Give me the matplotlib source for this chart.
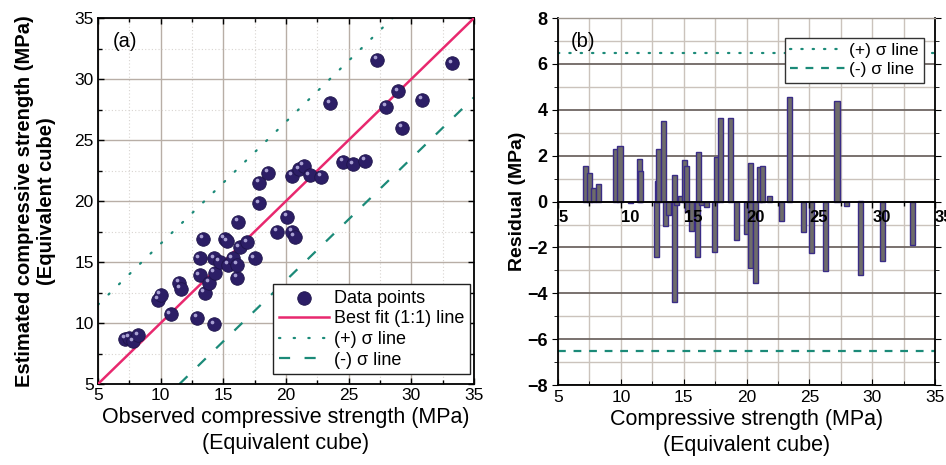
import matplotlib
matplotlib.use('Agg')
import matplotlib.pyplot as plt
from matplotlib import font_manager as fm
from matplotlib.ticker import MultipleLocator
import matplotlib.transforms as mtransforms

names = {f.name for f in fm.fontManager.ttflist}
NARROW = 'Liberation Sans Narrow' if 'Liberation Sans Narrow' in names else 'Liberation Sans'
SANS = 'Liberation Sans'
plt.rcParams['font.family'] = [SANS, 'DejaVu Sans']

# ---------------- data ----------------
obs_x = [7.15, 7.5, 7.8, 8.2, 9.8, 10.0, 10.8, 11.5, 11.6, 12.9,
         13.1, 13.1, 13.4, 13.5, 13.85, 14.25, 14.25, 14.3, 14.7, 15.1,
         15.3, 15.4, 15.75, 16.1, 16.1, 16.2, 16.3, 16.9, 17.5, 17.85,
         17.85, 18.6, 19.3, 20.1, 20.5, 20.7, 20.5, 21.05, 21.4, 21.9,
         22.8, 23.5, 24.55, 25.35, 26.3, 27.25, 28.0, 28.95, 29.25, 30.85,
         33.25]
est_y = [8.7, 8.8, 8.5, 9.0, 11.9, 12.3, 10.7, 13.3, 12.8, 10.4,
         13.9, 15.3, 16.9, 12.5, 13.3, 9.9, 15.3, 14.1, 15.0, 16.9,
         16.7, 14.75, 15.3, 13.7, 14.75, 18.3, 16.2, 16.6, 15.3, 19.8,
         21.5, 22.3, 17.5, 18.7, 17.5, 17.05, 22.05, 22.6, 22.9, 22.1,
         22.0, 28.0, 23.2, 23.0, 23.3, 31.6, 27.7, 29.0, 26.0, 28.3,
         31.3]

res_x = [7.17, 7.5, 7.8, 8.2, 9.6, 9.93, 10.8, 11.45, 11.55, 12.85,
         12.9, 13.03, 13.38, 13.57, 13.78, 14.24, 14.26, 14.45, 14.77, 15.08,
         15.24, 15.3, 15.65, 16.08, 16.2, 16.4, 16.84, 17.48, 17.6, 17.9,
         18.7, 19.2, 20.0, 20.3, 20.35, 20.7, 21.0, 21.3, 21.86, 22.8,
         23.43, 24.5, 25.2, 26.3, 27.2, 27.93, 29.05, 29.05, 30.85, 33.2]
res_val = [1.54, 1.24, 0.6, 0.77, 2.29, 2.42, -0.07, 1.86, 1.32, -2.4,
           0.9, 2.29, 3.52, -1.08, -0.57, 1.14, -4.37, -0.15, 0.26, 1.83,
           1.57, -0.47, -1.27, -2.43, 2.15, -0.17, -0.25, -2.21, 1.94, 3.64,
           3.64, -1.66, -1.41, -2.9, 1.69, -3.55, 1.5, 1.54, 0.26, -0.86,
           4.56, -1.31, -2.24, -3.03, 4.38, -0.2, 0.04, -3.2, -2.61, -1.89]

sigma = 6.5
x_ticks = [5, 10, 15, 20, 25, 30, 35]
y_ticks_a = [5, 10, 15, 20, 25, 30, 35]
y_ticks_b = [-8, -6, -4, -2, 0, 2, 4, 6, 8]

# ---------------- style ----------------
PINK = '#e8286e'
TEAL = '#1b8a78'
DOT = '#2c1e66'
BAR_FACE = '#6e6c6a'
BAR_EDGE = '#3a2c86'

fig = plt.figure(figsize=(9.46, 4.65), dpi=100)
ax1 = fig.add_axes([0.1036, 0.1742, 0.3975, 0.787])
ax2 = fig.add_axes([0.5899, 0.172, 0.3985, 0.789])

# ---------------- panel (a) ----------------
ax1.set_xlim(5, 35)
ax1.set_ylim(5, 35)
ax1.set_xticks(x_ticks)
ax1.set_yticks(y_ticks_a)
ax1.xaxis.set_minor_locator(MultipleLocator(2.5))
ax1.yaxis.set_minor_locator(MultipleLocator(2.5))
ax1.grid(which='major', color='#b8aea6', lw=1.0)
ax1.grid(which='minor', color='#d8d4d0', lw=0.8, ls=(0, (1, 2)))
ax1.set_axisbelow(True)
ax1.tick_params(which='both', direction='in', top=True, right=True,
                length=4, width=1, labelsize=12.5, pad=3)
ax1.tick_params(which='minor', length=3)
for lab in ax1.get_xticklabels() + ax1.get_yticklabels():
    lab.set_family(NARROW)
for s in ax1.spines.values():
    s.set_linewidth(1.3)

ax1.plot([5, 35 - sigma], [5 + sigma, 35], color=TEAL, lw=1.6,
         ls=(0, (0.6, 6)), dash_capstyle='round', label='(+) σ line', zorder=2)
ax1.plot([5 + sigma, 35], [5, 35 - sigma], color=TEAL, lw=1.6,
         ls=(0, (5, 6.5)), label='(-) σ line', zorder=2)
ax1.plot([5, 35], [5, 35], color=PINK, lw=1.8, label='Best fit (1:1) line', zorder=3)
ax1.scatter(obs_x, est_y, s=95, color=DOT, edgecolor='#1e144a', lw=0.6,
            zorder=4, label='Data points')
hl = mtransforms.offset_copy(ax1.transData, fig=fig, x=-1.7, y=1.9, units='points')
ax1.scatter(obs_x, est_y, s=7, color='#b8b0e0', lw=0, zorder=5, transform=hl, alpha=0.9)

h, l = ax1.get_legend_handles_labels()
order = [l.index('Data points'), l.index('Best fit (1:1) line'),
         l.index('(+) σ line'), l.index('(-) σ line')]
leg1 = ax1.legend([h[i] for i in order], [l[i] for i in order],
                  loc='lower right', bbox_to_anchor=(0.99, 0.027),
                  fontsize=13, frameon=True, fancybox=False, edgecolor='#222222',
                  handlelength=2.8, borderpad=0.3, labelspacing=0.2,
                  handletextpad=0.3, borderaxespad=0, framealpha=1)
leg1.get_frame().set_linewidth(1.0)

ax1.text(0.04, 0.935, '(a)', transform=ax1.transAxes, fontsize=14.5,
         ha='left', va='center')
ax1.set_xlabel('Observed compressive strength (MPa)\n(Equivalent cube)',
               fontsize=15.5, family=NARROW, linespacing=1.3, labelpad=3)
ax1.set_ylabel('Estimated compressive strength (MPa)\n(Equivalent cube)',
               fontsize=14.5, fontweight='bold', linespacing=1.25, labelpad=13)

# ---------------- panel (b) ----------------
ax2.set_xlim(5, 35)
ax2.set_ylim(-8, 8)
ax2.set_xticks(x_ticks)
ax2.set_yticks(y_ticks_b)
ax2.xaxis.set_minor_locator(MultipleLocator(2.5))
ax2.yaxis.set_minor_locator(MultipleLocator(1))
ax2.grid(which='both', axis='x', color='#cbc3bc', lw=1.0)
ax2.grid(which='major', axis='y', color='#6e6662', lw=1.3)
ax2.grid(which='minor', axis='y', color='#cbc3bc', lw=1.0)
ax2.set_axisbelow(True)
ax2.tick_params(axis='x', which='both', direction='in', length=4, labelsize=12.5)
ax2.tick_params(axis='x', which='minor', length=3)
ax2.tick_params(axis='y', which='both', direction='out', right=True, length=4,
                labelsize=13)
ax2.tick_params(axis='y', which='minor', length=3)
for lab in ax2.get_xticklabels():
    lab.set_family(NARROW)
for lab in ax2.get_yticklabels():
    lab.set_fontweight('bold')
ax2.spines['top'].set_color('#a09890')
ax2.spines['top'].set_linewidth(1.0)
for k in ('left', 'bottom', 'right'):
    ax2.spines[k].set_linewidth(1.3)

ax2.bar(res_x, res_val, width=0.4, color=BAR_FACE, edgecolor=BAR_EDGE,
        linewidth=1.0, zorder=3)
ax2.axhline(sigma, color=TEAL, lw=1.6, ls=(0, (0.6, 4.5)),
            dash_capstyle='round', label='(+) σ line', zorder=2)
ax2.axhline(-sigma, color=TEAL, lw=1.6, ls=(0, (3.5, 3.5)),
            label='(-) σ line', zorder=2)

sec = ax2.secondary_xaxis(0.5)
sec.set_zorder(10)
sec.xaxis.tick_bottom()
sec.spines['top'].set_visible(False)
sec.spines['bottom'].set_visible(True)
sec.spines['bottom'].set_linewidth(1.3)
sec.set_xticks(x_ticks)
sec.xaxis.set_minor_locator(MultipleLocator(2.5))
sec.tick_params(which='both', direction='out', length=4, width=1,
                labelsize=12, pad=2, bottom=True, top=False,
                labelbottom=True, labeltop=False)
sec.tick_params(which='minor', length=3)
for lab in sec.get_xticklabels():
    lab.set_fontweight('bold')
    lab.set_ha('left')

leg2 = ax2.legend(loc='upper right', bbox_to_anchor=(0.97, 0.947),
                  fontsize=12.5, frameon=True, fancybox=False, edgecolor='#333333',
                  handlelength=3.2, borderpad=0.3, labelspacing=0.25,
                  handletextpad=0.2, borderaxespad=0, framealpha=1)
leg2.get_frame().set_linewidth(1.0)
leg2.set_zorder(20)

ax2.text(0.035, 0.935, '(b)', transform=ax2.transAxes, fontsize=14.5,
         ha='left', va='center')
ax2.set_xlabel('Compressive strength (MPa)\n(Equivalent cube)',
               fontsize=15.5, family=NARROW, linespacing=1.3, labelpad=3)
ax2.set_ylabel('Residual (MPa)', fontsize=14, fontweight='bold', labelpad=1)

fig.savefig('out.png', dpi=100)
